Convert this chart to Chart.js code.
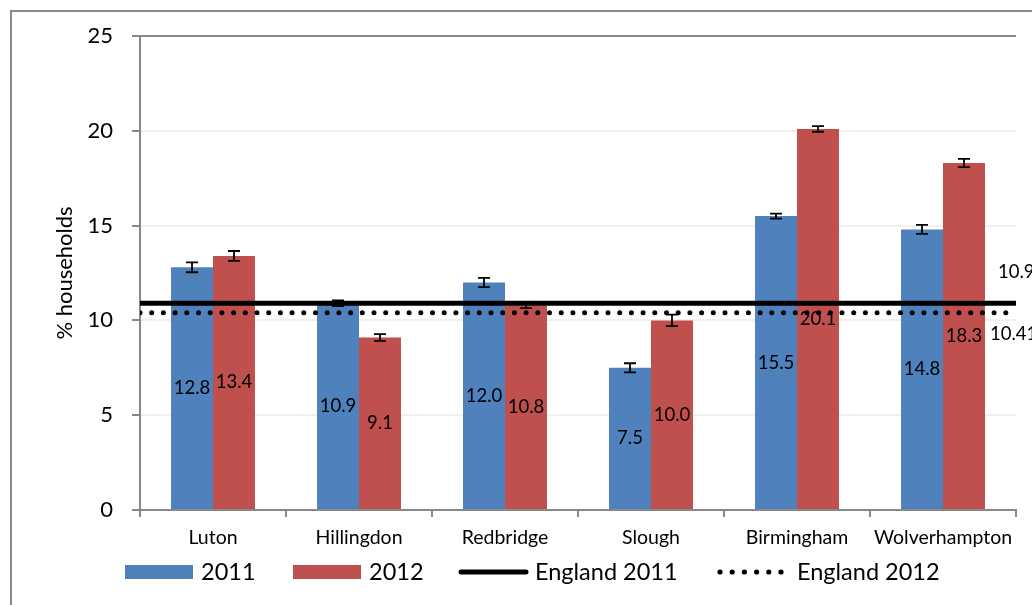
<!DOCTYPE html>
<html><head><meta charset="utf-8">
<script src="https://cdn.jsdelivr.net/npm/chart.js@4"></script>
<style>
html,body{margin:0;padding:0;background:#fff;overflow:hidden;width:1032px;height:605px;}
#frame{position:absolute;left:10px;top:10px;width:1100px;height:700px;border:2px solid #898989;}
#c{position:absolute;left:0;top:0;}
</style></head><body>
<div id="frame"></div>
<canvas id="c" width="1032" height="605"></canvas>
<script>
const categories = ['Luton','Hillingdon','Redbridge','Slough','Birmingham','Wolverhampton'];
const values2011 = [12.8, 10.9, 12.0, 7.5, 15.5, 14.8];
const values2012 = [13.4, 9.1, 10.8, 10.0, 20.1, 18.3];
const errors2011 = [0.26, 0.15, 0.24, 0.24, 0.13, 0.24];
const errors2012 = [0.26, 0.18, 0.15, 0.30, 0.15, 0.22];
const england2011 = 10.9;
const england2012 = 10.41;
const englandLabels = ['10.9', '10.41'];
const yTicks = [0, 5, 10, 15, 20, 25];
const seriesNames = ['2011', '2012', 'England 2011', 'England 2012'];

const FONT = 'Lato';
const errs = [errors2011, errors2012];
const xMin = -0.5, xMax = categories.length - 0.5;
const xBoundaries = categories.map((c, i) => i - 0.5).concat([xMax]);

const barExtras = {
  id: 'barExtras',
  afterDatasetDraw(chart, args) {
    const meta = args.meta;
    if (meta.type !== 'bar') return;
    const ctx = chart.ctx, ys = chart.scales.y;
    const e = errs[args.index];
    ctx.save();
    meta.data.forEach((el, i) => {
      const v = meta._parsed[i].y;
      const t = ys.getPixelForValue(v + e[i]), b = ys.getPixelForValue(v - e[i]);
      ctx.strokeStyle = '#000'; ctx.lineWidth = 1.8;
      ctx.beginPath();
      ctx.moveTo(el.x, t); ctx.lineTo(el.x, b);
      ctx.moveTo(el.x - 6, t); ctx.lineTo(el.x + 6, t);
      ctx.moveTo(el.x - 6, b); ctx.lineTo(el.x + 6, b);
      ctx.stroke();
    });
    ctx.restore();
  },
  afterDatasetsDraw(chart) {
    const ctx = chart.ctx;
    ctx.save();
    ctx.fillStyle = '#000';
    ctx.font = '18.5px ' + FONT;
    ctx.textAlign = 'center'; ctx.textBaseline = 'middle';
    [0, 1].forEach(di => {
      const meta = chart.getDatasetMeta(di);
      meta.data.forEach((el, i) => {
        ctx.fillText(meta._parsed[i].y.toFixed(1), el.x, (el.y + el.base) / 2);
      });
    });
    const offs = [[-18, -31], [-26, 21]];
    ctx.textAlign = 'left';
    [2, 3].forEach((di, k) => {
      const meta = chart.getDatasetMeta(di);
      const p = meta.data[meta.data.length - 1];
      ctx.fillText(englandLabels[k], p.x + offs[k][0], p.y + offs[k][1]);
    });
    ctx.restore();
  },
  afterDraw(chart) {
    const ctx = chart.ctx;
    const ds = chart.data.datasets;
    const cy = 572;
    ctx.save();
    ctx.font = '23.5px ' + FONT;
    ctx.textAlign = 'left'; ctx.textBaseline = 'middle';
    ctx.fillStyle = ds[0].backgroundColor; ctx.fillRect(125, 565, 68, 14);
    ctx.fillStyle = '#000'; ctx.fillText(seriesNames[0], 201, cy);
    ctx.fillStyle = ds[1].backgroundColor; ctx.fillRect(293, 565, 68, 14);
    ctx.fillStyle = '#000'; ctx.fillText(seriesNames[1], 369, cy);
    ctx.strokeStyle = ds[2].borderColor; ctx.lineWidth = 5; ctx.lineCap = 'round';
    ctx.beginPath(); ctx.moveTo(461, cy); ctx.lineTo(526, cy); ctx.stroke();
    ctx.fillText(seriesNames[2], 535, cy);
    ctx.fillStyle = ds[3].borderColor;
    for (let k = 0; k < 6; k++) {
      ctx.beginPath(); ctx.arc(720 + k * 12.2, cy, 2.6, 0, Math.PI * 2); ctx.fill();
    }
    ctx.fillStyle = '#000';
    ctx.fillText(seriesNames[3], 797, cy);
    ctx.restore();
  }
};

new Chart(document.getElementById('c'), {
  type: 'bar',
  data: {
    datasets: [
      { label: seriesNames[0], data: values2011.map((v, i) => ({ x: i, y: v })), backgroundColor: '#4F81BD',
        categoryPercentage: 0.575, barPercentage: 1.0, borderWidth: 0, order: 2 },
      { label: seriesNames[1], data: values2012.map((v, i) => ({ x: i, y: v })), backgroundColor: '#C0504D',
        categoryPercentage: 0.575, barPercentage: 1.0, borderWidth: 0, order: 2 },
      { type: 'line', label: seriesNames[2],
        data: [{ x: xMin, y: england2011 }, { x: xMax, y: england2011 }],
        borderColor: '#000', borderWidth: 5, pointRadius: 0, fill: false, order: 1 },
      { type: 'line', label: seriesNames[3],
        data: [{ x: xMin, y: england2012 }, { x: xMax, y: england2012 }],
        borderColor: '#000', borderWidth: 5, borderDash: [0, 11.7], borderCapStyle: 'round',
        pointRadius: 0, fill: false, order: 1 }
    ]
  },
  options: {
    responsive: false,
    animation: false,
    devicePixelRatio: 1,
    layout: { padding: { top: 36, right: 16, left: 0, bottom: 0 } },
    plugins: { legend: { display: false }, tooltip: { enabled: false } },
    scales: {
      x: {
        type: 'linear', min: xMin, max: xMax, offset: false, position: 'bottom',
        afterBuildTicks: s => { s.ticks = xBoundaries.map(v => ({ value: v })); },
        afterFit: s => { s.height = 95; },
        grid: { offset: false, drawOnChartArea: false, drawTicks: true, tickLength: 7, tickColor: '#888', color: '#888', lineWidth: 2 },
        border: { color: '#888', width: 2 },
        ticks: {
          callback: (v, i) => categories[i] || '',
          labelOffset: 73,
          font: { family: FONT, size: 19.5 }, color: '#000', padding: 9, maxRotation: 0, minRotation: 0, autoSkip: false
        }
      },
      y: {
        min: 0, max: 25, position: 'left',
        afterBuildTicks: s => { s.ticks = yTicks.map(v => ({ value: v })); },
        afterFit: s => { s.width = 140; },
        grid: {
          color: c => (c.tick && c.tick.value === 25) ? '#888' : '#f0f0f0',
          lineWidth: 2, tickColor: '#888', tickLength: 8, drawTicks: true
        },
        border: { color: '#888', width: 2 },
        ticks: { font: { family: FONT, size: 22 }, color: '#000', padding: 19 },
        title: { display: true, text: '% households', font: { family: FONT, size: 22 }, color: '#000', padding: { top: 52, bottom: 0 } }
      }
    }
  },
  plugins: [barExtras]
});
</script>
</body></html>
